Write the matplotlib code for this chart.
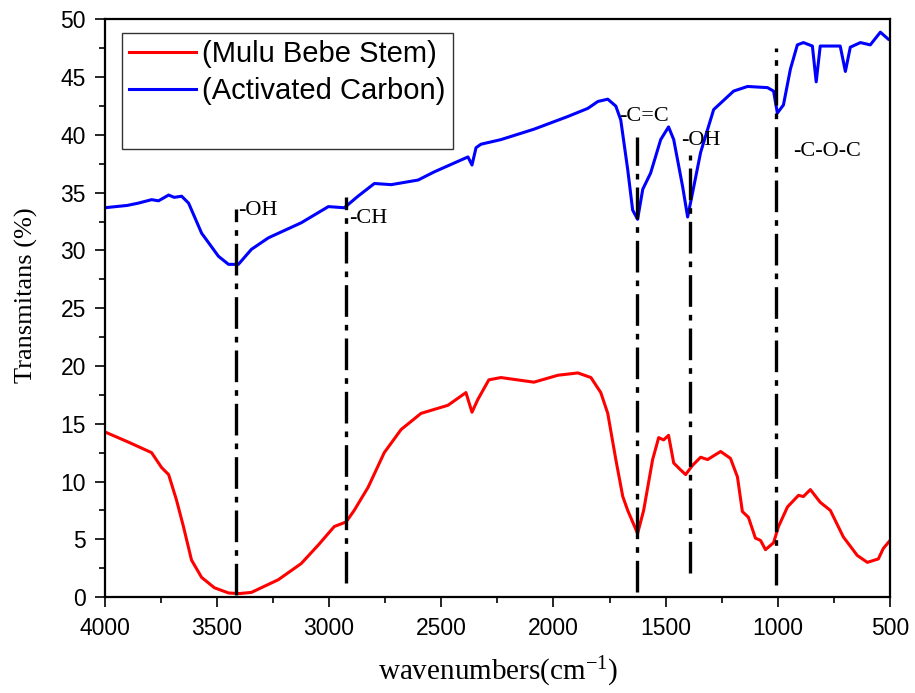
import matplotlib.pyplot as plt
from matplotlib.lines import Line2D
from matplotlib.ticker import MultipleLocator

plt.rcParams['mathtext.fontset'] = 'custom'
plt.rcParams['mathtext.rm'] = 'Liberation Serif'
plt.rcParams['mathtext.it'] = 'Liberation Serif:italic'

# Mulu Bebe Stem (red)
stem_wn = [4000, 3893, 3791, 3746, 3715, 3680, 3649, 3613, 3568, 3511, 3448,
           3400, 3346, 3226, 3124, 3048, 2977, 2924, 2888, 2826, 2754, 2679,
           2590, 2470, 2390, 2363, 2337, 2288, 2234, 2087, 1980, 1891, 1833,
           1789, 1758, 1722, 1691, 1669, 1625, 1598, 1558, 1531, 1509, 1487,
           1464, 1433, 1411, 1380, 1344, 1313, 1255, 1211, 1180, 1158, 1131,
           1100, 1077, 1055, 1019, 997, 957, 908, 886, 855, 811, 766, 708,
           646, 601, 552, 530, 500]
stem_t = [14.3, 13.4, 12.5, 11.2, 10.6, 8.4, 6.1, 3.2, 1.7, 0.8, 0.35,
          0.3, 0.4, 1.5, 2.9, 4.5, 6.1, 6.5, 7.5, 9.5, 12.5, 14.5,
          15.9, 16.6, 17.7, 16.0, 17.1, 18.8, 19.0, 18.6, 19.2, 19.4, 19.0,
          17.7, 15.9, 11.9, 8.7, 7.5, 5.5, 7.5, 11.9, 13.8, 13.6, 14.0,
          11.6, 11.0, 10.6, 11.4, 12.1, 11.9, 12.6, 12.0, 10.4, 7.4, 6.9,
          5.1, 4.9, 4.1, 4.7, 6.1, 7.8, 8.8, 8.7, 9.3, 8.2, 7.5, 5.2,
          3.6, 3.0, 3.3, 4.2, 4.9]

# Activated Carbon (blue)
carbon_wn = [4000, 3900, 3850, 3791, 3760, 3715, 3690, 3657, 3626, 3568, 3493,
             3448, 3404, 3346, 3270, 3124, 3003, 2932, 2871, 2798, 2723, 2603,
             2532, 2381, 2363, 2345, 2323, 2234, 2087, 1936, 1847, 1802, 1758,
             1722, 1700, 1669, 1647, 1625, 1602, 1567, 1522, 1487, 1464, 1424,
             1402, 1380, 1344, 1286, 1197, 1135, 1046, 1019, 1002, 975, 944,
             913, 886, 846, 829, 811, 722, 699, 677, 632, 588, 543, 508]
carbon_t = [33.7, 33.9, 34.1, 34.4, 34.3, 34.8, 34.6, 34.7, 34.1, 31.5, 29.5,
            28.8, 28.8, 30.1, 31.1, 32.4, 33.8, 33.7, 34.7, 35.8, 35.7, 36.1,
            36.8, 38.1, 37.4, 38.9, 39.2, 39.6, 40.5, 41.6, 42.3, 42.9, 43.1,
            42.5, 41.3, 37.0, 33.5, 32.7, 35.3, 36.7, 39.6, 40.7, 39.6, 35.5,
            32.9, 35.0, 38.5, 42.2, 43.8, 44.2, 44.1, 43.8, 41.9, 42.6, 45.7,
            47.8, 48.0, 47.7, 44.6, 47.7, 47.7, 45.5, 47.6, 48.0, 47.8, 48.9,
            48.3]

# band markers
peak_wn = [3413, 2924, 1626, 1393, 1006]
peak_top = [33.6, 34.6, 39.8, 38.3, 47.5]
peak_bottom = [0.2, 1.2, 0.4, 2.1, 1.0]
label_text = ['-OH', '-CH', '-C=C', '-OH', '-C-O-C']
label_wn = [3404, 2910, 1709, 1433, 930]
label_t = [33.5, 32.8, 41.6, 39.5, 38.6]

sans = 'Liberation Sans'
serif = 'Liberation Serif'

fig = plt.figure(figsize=(9.15, 6.93), dpi=100)
ax = fig.add_axes([0.1144, 0.1385, 0.8583, 0.8334])

ax.plot(stem_wn, stem_t, color='#ff0000', lw=2.2, label='(Mulu Bebe Stem)')
ax.plot(carbon_wn, carbon_t, color='#0000ff', lw=2.2, label='(Activated Carbon)')

for wn, y0, y1 in zip(peak_wn, peak_bottom, peak_top):
    ax.plot([wn, wn], [y0, y1], color='black', lw=2.4,
            dashes=(9.5, 2.4, 1.7, 2.4), solid_capstyle='butt',
            dash_capstyle='butt')

for txt, wn, t in zip(label_text, label_wn, label_t):
    ax.text(wn, t, txt, family=serif, fontsize=16, ha='left', va='center')

ax.set_xlim(4000, 500)
ax.set_ylim(0, 50)
ax.xaxis.set_major_locator(MultipleLocator(500))
ax.xaxis.set_minor_locator(MultipleLocator(250))
ax.yaxis.set_major_locator(MultipleLocator(5))
ax.yaxis.set_minor_locator(MultipleLocator(2.5))

ax.tick_params(which='major', direction='out', length=7.5, width=1.2,
               labelsize=16.5)
ax.tick_params(which='minor', direction='out', length=4, width=1.2)
ax.tick_params(axis='x', pad=7)
ax.tick_params(axis='y', pad=6)
for lab in ax.get_xticklabels() + ax.get_yticklabels():
    lab.set_family(sans)
for sp in ax.spines.values():
    sp.set_linewidth(1.6)

ax.set_xlabel('wavenumbers(cm$^{-1}$)', family=serif, fontsize=21)
ax.set_ylabel('Transmitans (%)', family=serif, fontsize=19)
ax.xaxis.set_label_coords(0.501, -0.1)
ax.yaxis.set_label_coords(-0.085, 0.522)

handles, labels = ax.get_legend_handles_labels()
handles.append(Line2D([], [], color='none'))
labels.append(' ')
leg = ax.legend(handles, labels, loc='upper left', bbox_to_anchor=(0.022, 0.977),
                borderaxespad=0, frameon=True, fancybox=False, shadow=False,
                prop={'family': sans, 'size': 21}, handlelength=2.3,
                handletextpad=0.2, labelspacing=0.3, borderpad=0.25)
leg.get_frame().set_edgecolor('black')
leg.get_frame().set_linewidth(1.0)

fig.savefig('out.png', dpi=100)
